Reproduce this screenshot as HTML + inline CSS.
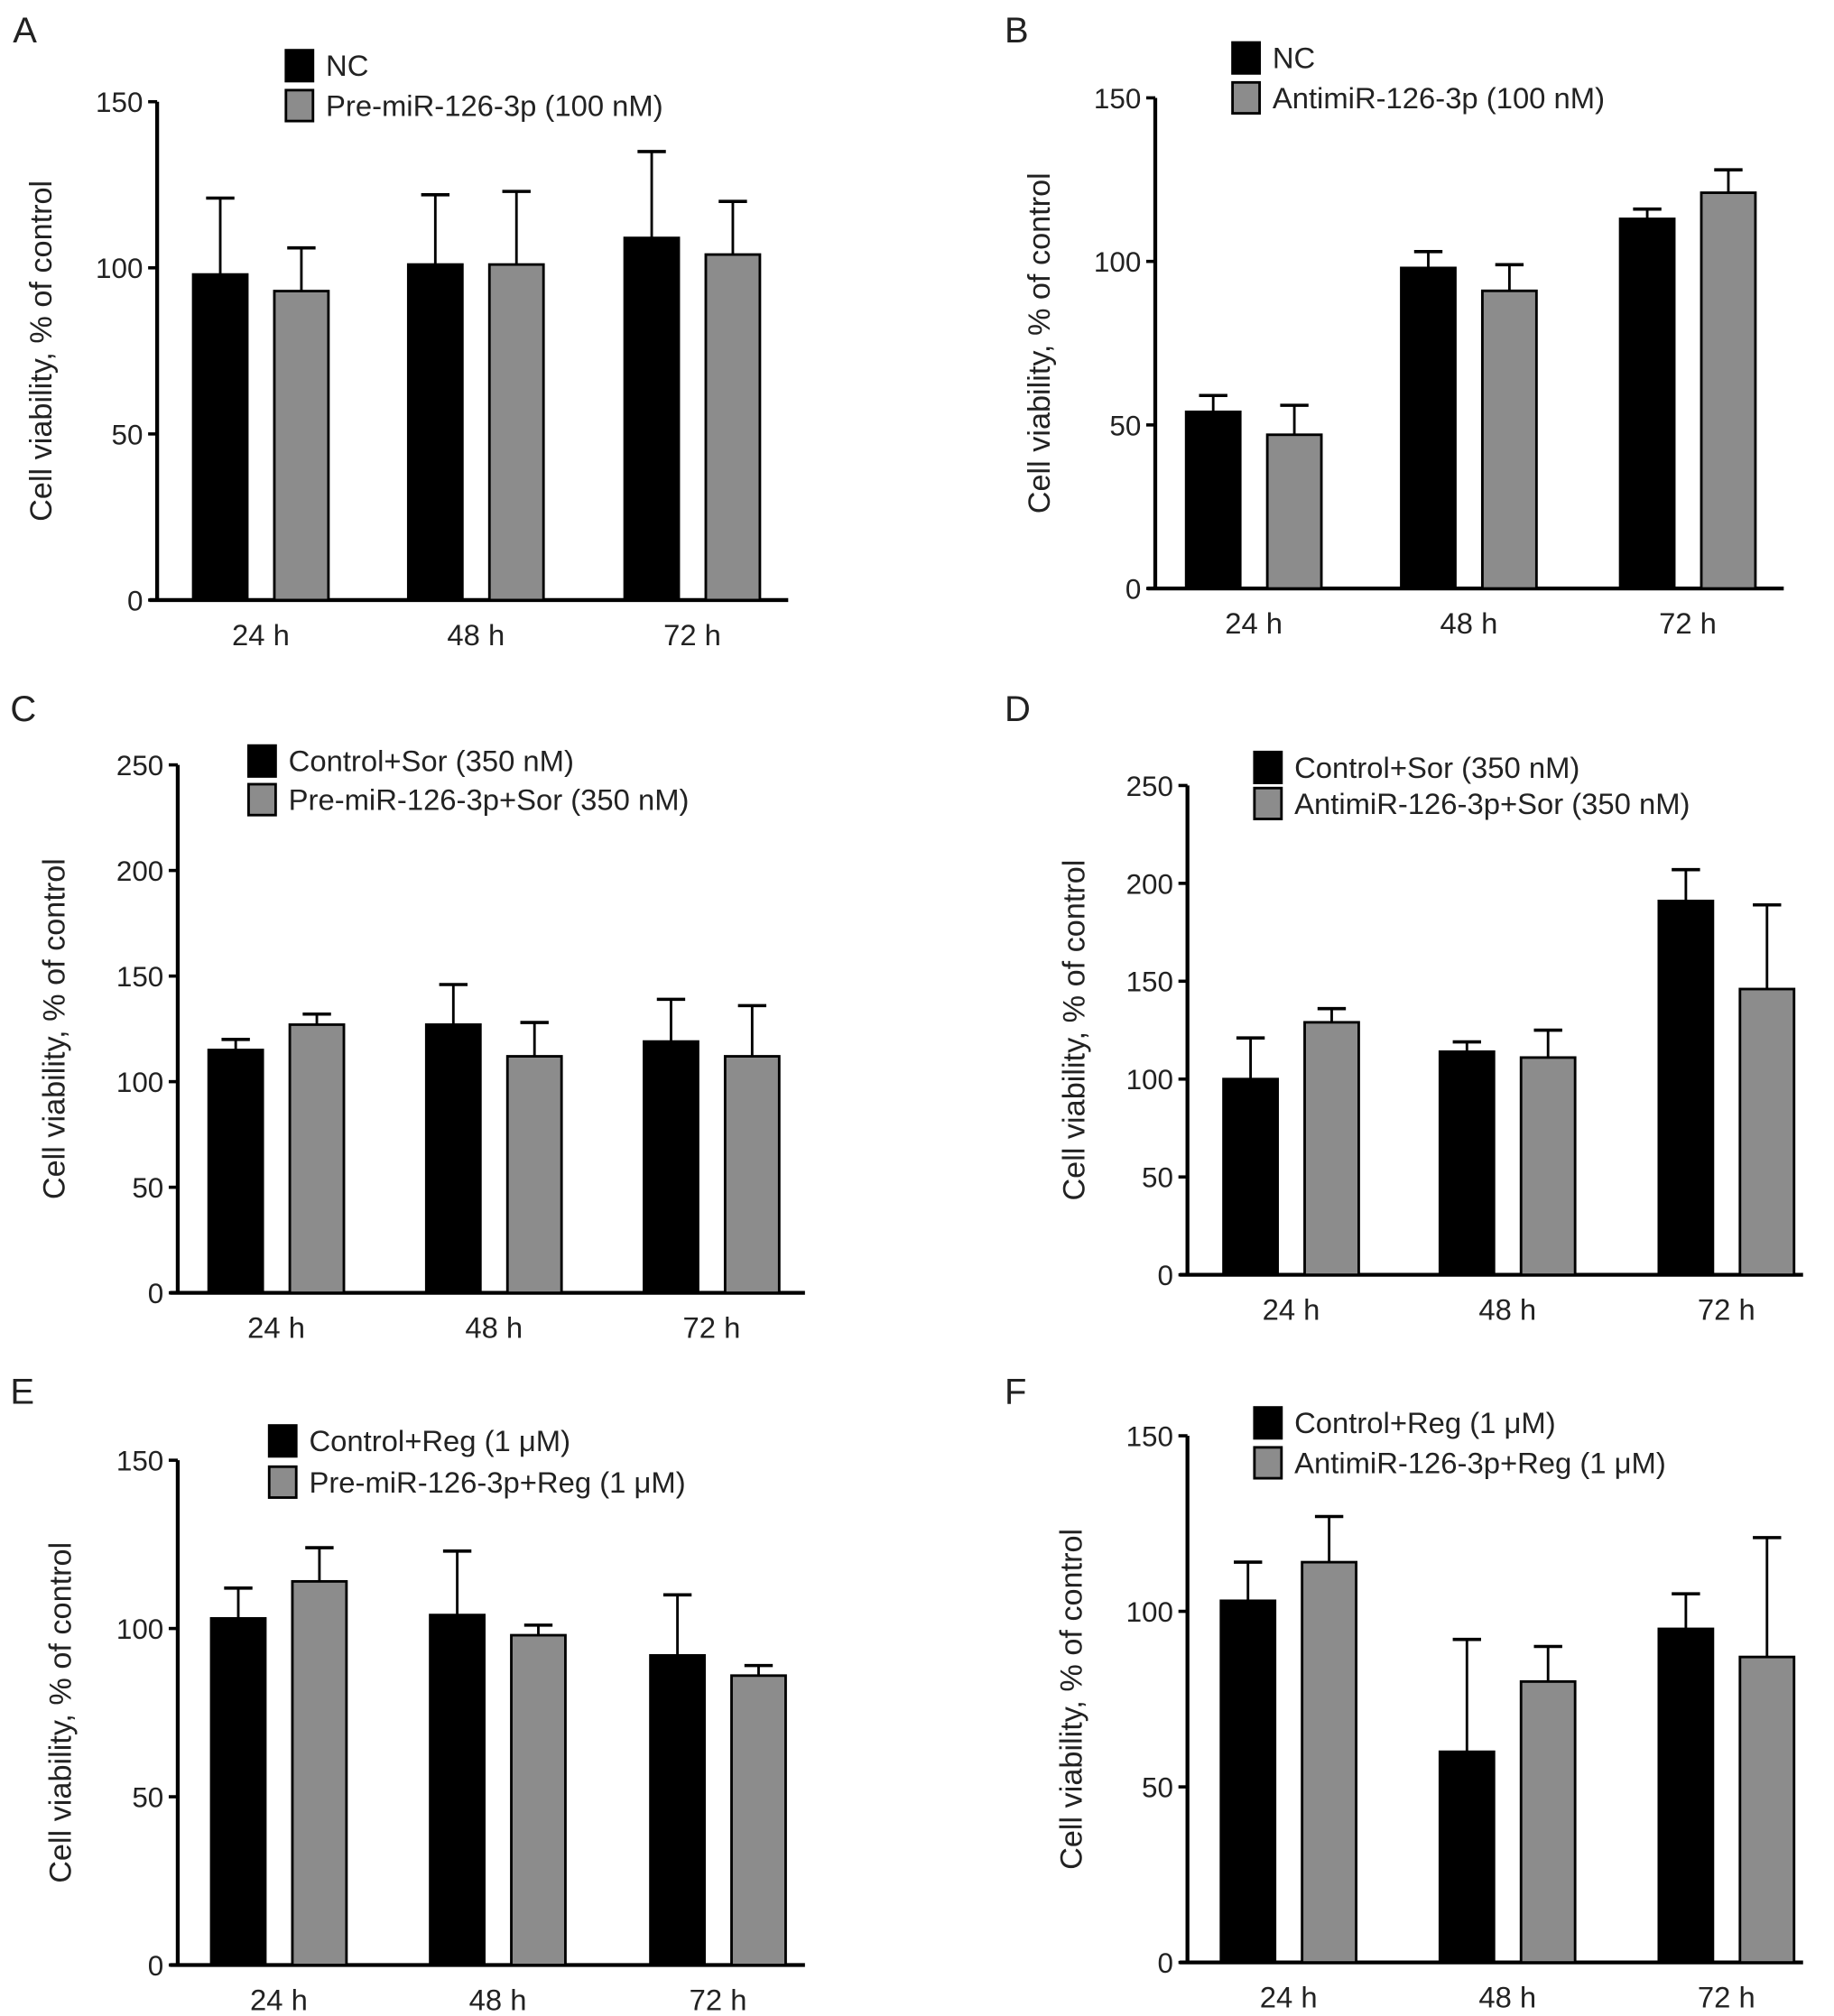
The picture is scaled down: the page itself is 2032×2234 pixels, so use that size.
<!DOCTYPE html>
<html><head><meta charset="utf-8"><style>
html,body{margin:0;padding:0;background:#fff}
svg{display:block}
text{font-family:"Liberation Sans",Arial,sans-serif;fill:#222}
</style></head><body>
<svg id="fig" width="2032" height="2234" viewBox="0 0 1424 1565.6" xmlns="http://www.w3.org/2000/svg"></svg>
<script>
const categories = ["24 h","48 h","72 h"];
const aNC = [98, 101, 109];           const aNCErr = [23, 21, 26];
const aPre = [93, 101, 104];          const aPreErr = [13, 22, 16];
const bNC = [54, 98, 113];            const bNCErr = [5, 5, 3];
const bAnti = [47, 91, 121];          const bAntiErr = [9, 8, 7];
const cCtrl = [115, 127, 119];        const cCtrlErr = [5, 19, 20];
const cPre = [127, 112, 112];         const cPreErr = [5, 16, 24];
const dCtrl = [100, 114, 191];        const dCtrlErr = [21, 5, 16];
const dAnti = [129, 111, 146];        const dAntiErr = [7, 14, 43];
const eCtrl = [103, 104, 92];         const eCtrlErr = [9, 19, 18];
const ePre = [114, 98, 86];           const ePreErr = [10, 3, 3];
const fCtrl = [103, 60, 95];          const fCtrlErr = [11, 32, 10];
const fAnti = [114, 80, 87];          const fAntiErr = [13, 10, 34];
const ticks150 = [0, 50, 100, 150];
const ticks250 = [0, 50, 100, 150, 200, 250];

const NS = "http://www.w3.org/2000/svg";
const svg = document.getElementById("fig");
function mk(tag, attrs, parent, txt){
  const e = document.createElementNS(NS, tag);
  for (const k in attrs) e.setAttribute(k, attrs[k]);
  if (txt !== undefined) e.textContent = txt;
  (parent || svg).appendChild(e);
  return e;
}

const panels = [
 {id:"a", letter:"A", lx:10, ly:33, ax:122, yTop:79, y0:466, xEnd:612, max:150, ticks:ticks150,
  groups:[150,317,485], s1:aNC, e1:aNCErr, s2:aPre, e2:aPreErr, legX:222, legY:[51,82],
  leg:["NC","Pre-miR-126-3p (100 nM)"], titleX:40},
 {id:"b", letter:"B", lx:780, ly:33, ax:897, yTop:76, y0:457, xEnd:1385, max:150, ticks:ticks150,
  groups:[921,1088,1258], s1:bNC, e1:bNCErr, s2:bAnti, e2:bAntiErr, legX:957, legY:[45,76],
  leg:["NC","AntimiR-126-3p (100 nM)"], titleX:815},
 {id:"c", letter:"C", lx:8, ly:560, ax:138, yTop:594, y0:1004, xEnd:625, max:250, ticks:ticks250,
  groups:[162,331,500], s1:cCtrl, e1:cCtrlErr, s2:cPre, e2:cPreErr, legX:193, legY:[591,621],
  leg:["Control+Sor (350 nM)","Pre-miR-126-3p+Sor (350 nM)"], titleX:50},
 {id:"d", letter:"D", lx:780, ly:560, ax:922, yTop:610, y0:990, xEnd:1400, max:250, ticks:ticks250,
  groups:[950,1118,1288], s1:dCtrl, e1:dCtrlErr, s2:dAnti, e2:dAntiErr, legX:974, legY:[596,624],
  leg:["Control+Sor (350 nM)","AntimiR-126-3p+Sor (350 nM)"], titleX:842},
 {id:"e", letter:"E", lx:8, ly:1090, ax:138, yTop:1134, y0:1526, xEnd:625, max:150, ticks:ticks150,
  groups:[164,334,505], s1:eCtrl, e1:eCtrlErr, s2:ePre, e2:ePreErr, legX:209, legY:[1119,1151],
  leg:["Control+Reg (1 \u03bcM)","Pre-miR-126-3p+Reg (1 \u03bcM)"], titleX:55},
 {id:"f", letter:"F", lx:780, ly:1090, ax:922, yTop:1115, y0:1524, xEnd:1400, max:150, ticks:ticks150,
  groups:[948,1118,1288], s1:fCtrl, e1:fCtrlErr, s2:fAnti, e2:fAntiErr, legX:974, legY:[1105,1136],
  leg:["Control+Reg (1 \u03bcM)","AntimiR-126-3p+Reg (1 \u03bcM)"], titleX:840}
];

const BW = 42, GAP = 63;
panels.forEach(p => {
  const g = mk("g", {});
  
  
  const y = v => p.y0 - (v / p.max) * (p.y0 - p.yTop);
  const L = mk("text", {x:p.lx, y:p.ly, "font-size":28}, g, p.letter);
  
  
  const ya = mk("line", {x1:p.ax, y1:p.yTop, x2:p.ax, y2:p.y0, stroke:"#000", "stroke-width":3}, g);
  
  
  const xa = mk("line", {x1:p.ax-6, y1:p.y0, x2:p.xEnd, y2:p.y0, stroke:"#000", "stroke-width":3}, g);
  
  
  p.ticks.forEach(t => {
    mk("line", {x1:p.ax-7, y1:y(t), x2:p.ax, y2:y(t), stroke:"#000", "stroke-width":2.5}, g);
    const tl = mk("text", {x:p.ax-11, y:y(t)+8, "font-size":22, "text-anchor":"end"}, g, t);
    
    
  });
  const yt = mk("text", {x:p.titleX, y:(p.yTop+p.y0)/2, "font-size":24, "text-anchor":"middle",
    transform:`rotate(-90 ${p.titleX} ${(p.yTop+p.y0)/2})`}, g, "Cell viability, % of control");
  
  
  categories.forEach((c, i) => {
    const gx = p.groups[i];
    const xl = mk("text", {x:gx+(BW+GAP)/2, y:p.y0+35, "font-size":23, "text-anchor":"middle"}, g, c);
    
    
    [[p.s1, p.e1, "#000", 0], [p.s2, p.e2, "#8c8c8c", GAP]].forEach(([s, e, fill, off], k) => {
      const bx = gx + off, top = y(s[i]), et = y(s[i] + e[i]), cx = bx + BW/2;
      mk("line", {x1:cx, y1:top, x2:cx, y2:et, stroke:"#000", "stroke-width":2}, g);
      mk("line", {x1:cx-11, y1:et, x2:cx+11, y2:et, stroke:"#000", "stroke-width":2.5}, g);
      const r = mk("rect", {x:bx, y:top, width:BW, height:p.y0-top, fill:fill, stroke:"#000", "stroke-width":2}, g);
      
      
    });
  });
  p.leg.forEach((t, k) => {
    const cy = p.legY[k];
    const sq = mk("rect", {x:p.legX, y:cy-12, width:21, height:24, fill:k?"#8c8c8c":"#000", stroke:"#000", "stroke-width":2}, g);
    
    
    const lt = mk("text", {x:p.legX+31, y:cy+8, "font-size":23}, g, t);
    
    
  });
});
</script>
</body></html>
